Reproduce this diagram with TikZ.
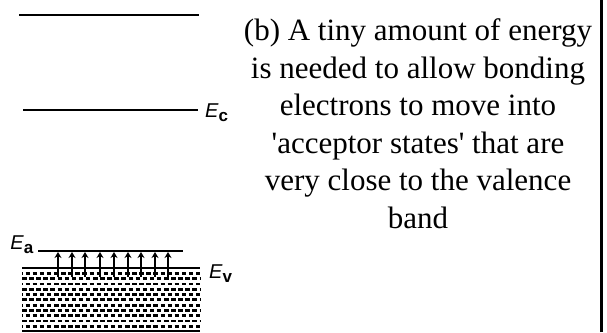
\documentclass[tikz,border=0pt]{standalone}
\usepackage{fontspec}
\setmainfont{Liberation Serif}
\newfontfamily\lblfont{Liberation Sans}
\usetikzlibrary{arrows.meta}
\newcommand{\elev}[1]{\textit{E}\raisebox{-4pt}{\fontsize{17}{17}\selectfont\textbf{#1}}}
\newcommand{\sq}{\textquotesingle}
\begin{document}
\begin{tikzpicture}[x=1pt,y=1pt,
  level/.style={line width=1.4pt},
  elabel/.style={font=\lblfont\fontsize{20}{20}\selectfont, inner sep=0pt},
  bandrow/.style={line width=2.8pt, dash pattern=on 4.5pt off 2.6pt},
  exc/.style={line width=2.2pt, -{Stealth[length=6pt,width=7pt]}}]
\useasboundingbox (0,0) rectangle (607,332);
% levels
\draw[level] (19,317) -- (199,317);
\draw[level] (23,222) coordinate (ecL) -- (198,222) coordinate (ecR);
\draw[level] (38,81) coordinate (eaL) -- (183,81) coordinate (eaR);
\node[elabel, anchor=west] (Ec) at (205,219) {\elev{c}};
\node[elabel] (Ea) at (22,87) {\elev{a}};
\node[elabel, anchor=west] (Ev) at (209,58) {\elev{v}};
% valence band
\draw[line width=2.2pt] (22,64) -- (200,64);
\foreach \i in {1,...,11}{
  \pgfmathsetmacro{\yy}{64-\i*5.3}
  \pgfmathsetmacro{\ph}{mod(\i,2)*3.5}
  \draw[bandrow, dash phase=\ph pt] (22,\yy) -- (200,\yy);
}
\draw[line width=2pt] (22,1) -- (200,1);
% excitation arrows
\foreach \x in {58,72,85,100,114,128,141,155,168}{
  \draw[exc] (\x,55) -- (\x,80);
}
% right frame bar
\draw[line width=3.5pt] (601.5,0) -- (601.5,332);
% text
\node[align=center, anchor=base, inner sep=0pt,
      font=\fontsize{31}{37.5}\selectfont] (txt) at (418,103.5)
 {(b) A tiny amount of energy\\is needed to allow bonding\\electrons to move into\\\sq acceptor states\sq{} that are\\very close to the valence\\band};
\end{tikzpicture}
\end{document}
